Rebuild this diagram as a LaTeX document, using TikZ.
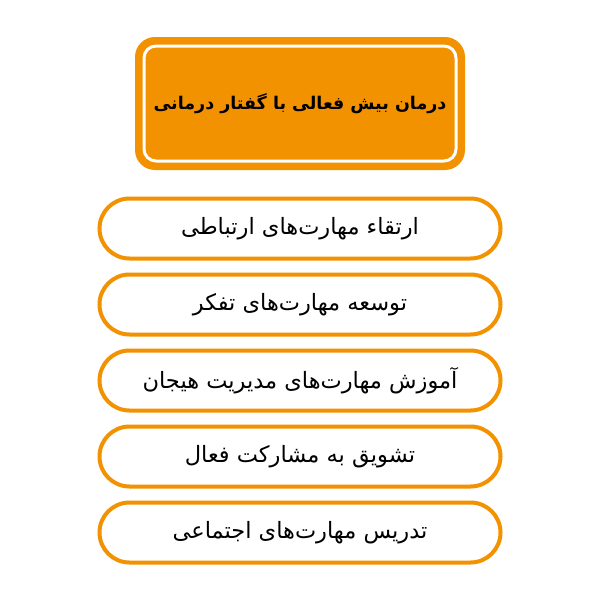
\documentclass[tikz,border=0pt]{standalone}
\usepackage{fontspec}
\TeXXeTstate=1
\newfontfamily\arabicfont[Script=Arabic]{DejaVu Sans}
\definecolor{therapyorange}{RGB}{243, 146, 0}
\usetikzlibrary{positioning}
\tikzset{
  skillpill/.style={draw=therapyorange, fill=white, line width=4pt, rounded corners=30pt,
    minimum width=401pt, minimum height=60pt, inner sep=0pt, font=\arabicfont\fontsize{22.5}{26}\selectfont},
}

\begin{document}
\begin{tikzpicture}[x=1pt, y=-1pt]
  \useasboundingbox[fill=white] (0,0) rectangle (601,600);
  % title box with white inner frame
  \node[fill=therapyorange, rounded corners=20pt, minimum width=330pt, minimum height=133pt] (title) at (300,103.5) {};
  \node[draw=white, line width=3pt, rounded corners=12pt, minimum width=312pt, minimum height=115pt,
    font=\arabicfont\bfseries\fontsize{17.5}{21}\selectfont] (titletext) at (title) {\beginR درمان بیش فعالی با گفتار درمانی\endR};
  % the five goals
  \node[skillpill] (comm) at (300,228.5) {\beginR ارتقاء مهارت‌های ارتباطی\endR};
  \node[skillpill, below=12pt of comm] (think) {\beginR توسعه مهارت‌های تفکر\endR};
  \node[skillpill, below=12pt of think] (emotion) {\beginR آموزش مهارت‌های مدیریت هیجان\endR};
  \node[skillpill, below=12pt of emotion] (active) {\beginR تشویق به مشارکت فعال\endR};
  \node[skillpill, below=12pt of active] (social) {\beginR تدریس مهارت‌های اجتماعی\endR};
\end{tikzpicture}
\end{document}
